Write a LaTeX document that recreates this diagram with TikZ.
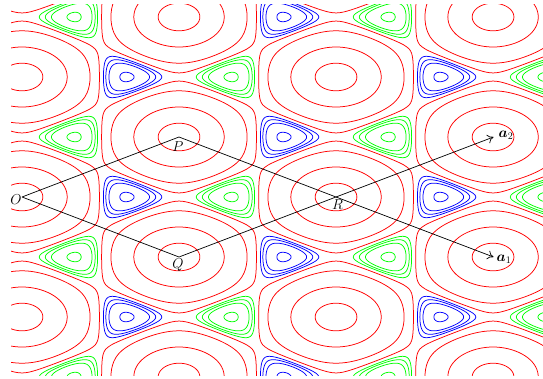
\documentclass[tikz,border=0pt]{standalone}
\usepackage{bm}
\usetikzlibrary{arrows.meta}
\tikzset{
  redc/.style={draw=red, line width=0.75pt},
  bluec/.style={draw=blue, line width=0.75pt},
  greenc/.style={draw=green, line width=0.75pt},
  vec/.style={draw=black, line width=0.7pt},
  lbl/.style={font=\fontsize{14.4}{17}\selectfont, inner sep=0pt}
}
\begin{document}
\begin{tikzpicture}[x=1pt,y=-1pt]
\useasboundingbox (0,0) rectangle (543,378);
% --- level curves of f = 2 cos u cos v + cos 2u, computed once ---
\foreach \lev [count=\i] in {2.5,1,-0.5,-0.955} {
  \pgfmathsetmacro\vz{rad(acos((\lev-1)/2))}
  \pgfmathsetmacro\dd{2*(1+\lev)}
  \gdef\pts{}
  \foreach \t in {0,5,...,355} {
    \pgfmathsetmacro\vv{\vz*sin(\t)}
    \pgfmathsetmacro\cv{cos(deg(\vv))}
    \pgfmathsetmacro\ww{max(-1,min(1,(-\cv+sqrt(max(0,\cv*\cv+\dd)))/2))}
    \pgfmathsetmacro\uu{(cos(\t)<0 ? -1 : 1)*rad(acos(\ww))}
    \xdef\pts{\pts(\uu,\vv)}
  }
  \expandafter\xdef\csname redpts\i\endcsname{\pts}
}
\foreach \lev [count=\i] in {-1.47,-1.28,-1.19,-1.11} {
  \pgfmathsetmacro\dd{2*(1+\lev)}
  \pgfmathsetmacro\vz{rad(acos(sqrt(-\dd)))}
  \gdef\pts{}
  \foreach \t in {0,5,...,355} {
    \pgfmathsetmacro\vv{\vz*sin(\t)}
    \pgfmathsetmacro\cv{cos(deg(\vv))}
    \pgfmathsetmacro\ss{(cos(\t)<0 ? 1 : -1)*sqrt(max(0,\cv*\cv+\dd))}
    \pgfmathsetmacro\ww{max(-1,min(1,(-\cv+\ss)/2))}
    \pgfmathsetmacro\uu{rad(acos(\ww))-2.094395}
    \xdef\pts{\pts(\uu,\vv)}
  }
  \expandafter\xdef\csname bluepts\i\endcsname{\pts}
}
% --- contour map ---
\begin{scope}
\clip (11,4) rectangle (543,375);
\begin{scope}[shift={(22,197)}, x={(49.98pt,0pt)}, y={(0pt,19.099pt)}]
\foreach \i in {1,...,4} {
  \foreach \m/\n in {0/-2,0/0,0/2,0/4,1/-3,1/-1,1/1,1/3,2/-2,2/0,2/2,2/4,3/-3,3/-1,3/1,3/3} {
    \edef\tmp{\noexpand\draw[redc,shift={(\m*pi,\n*pi)}] plot[smooth cycle] coordinates {\csname redpts\i\endcsname};}
    \tmp
  }
  \foreach \m/\n in {0/-2,0/0,0/2,1/-3,1/-1,1/1,1/3,2/-2,2/0,2/2} {
    \edef\tmp{\noexpand\draw[bluec,shift={(2.094395+\m*pi,\n*pi)}] plot[smooth cycle] coordinates {\csname bluepts\i\endcsname};}
    \tmp
  }
  \foreach \m/\n in {-1/-3,-1/-1,-1/1,-1/3,0/-2,0/0,0/2,1/-3,1/-1,1/1,1/3,2/-2,2/0,2/2} {
    \edef\tmp{\noexpand\draw[greenc,shift={(4.188790+\m*pi,\n*pi)},xscale=-1] plot[smooth cycle] coordinates {\csname bluepts\i\endcsname};}
    \tmp
  }
}
\end{scope}
\end{scope}
% --- lattice vectors ---
\coordinate (O) at (22,197);
\coordinate (P) at (179,137);
\coordinate (Q) at (179,257);
\coordinate (R) at (336,197);
\coordinate (A1) at (493.5,257);
\coordinate (A2) at (493.5,137);
\draw[vec] (O) -- (P) -- (R) -- (Q) -- (O);
\draw[vec, -{Computer Modern Rightarrow[length=6pt,width=9pt]}] (R) -- (A1);
\draw[vec, -{Computer Modern Rightarrow[length=6pt,width=9pt]}] (R) -- (A2);
\node[lbl] (lO) at (16,200) {$O$};
\node[lbl] (lP) at (178,147) {$P$};
\node[lbl] (lQ) at (178,265) {$Q$};
\node[lbl] (lR) at (337.5,204.5) {$R$};
\node[lbl] (la2) at (506,135) {$\bm{a}_2$};
\node[lbl] (la1) at (504,259) {$\bm{a}_1$};
\end{tikzpicture}
\end{document}
